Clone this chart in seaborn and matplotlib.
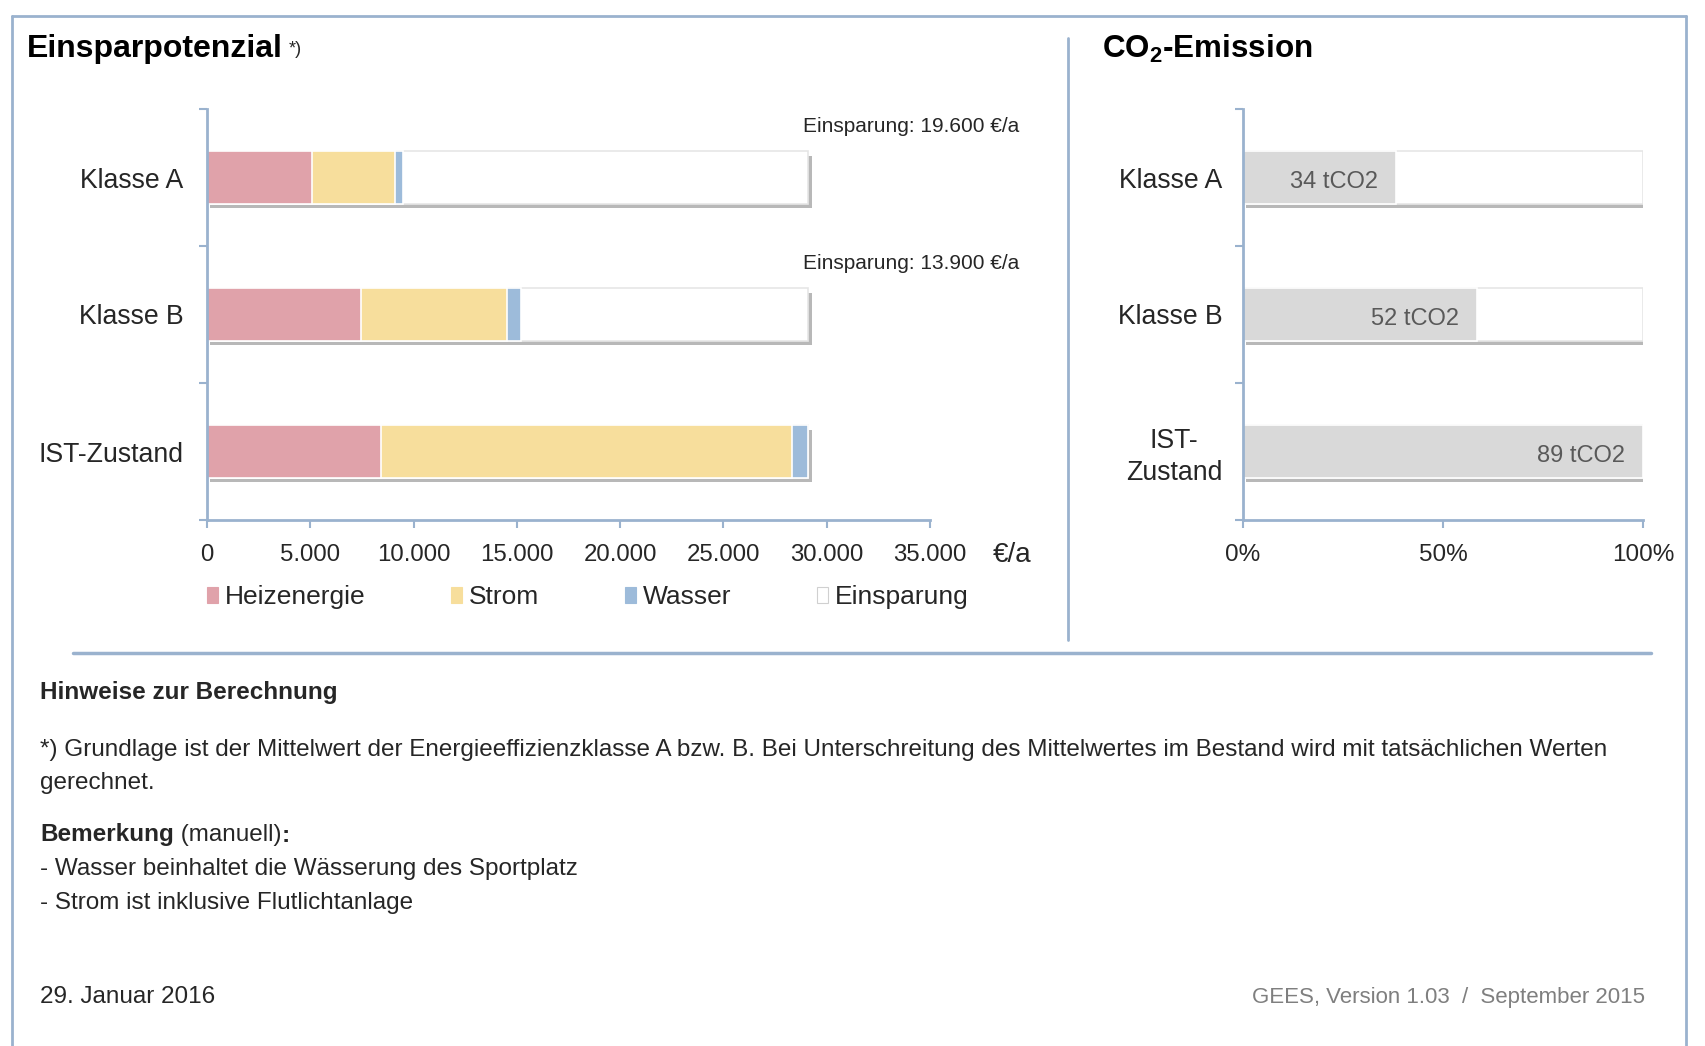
import numpy as np
import pandas as pd
import matplotlib
matplotlib.use("Agg")
import matplotlib.pyplot as plt
import matplotlib.patheffects as pe
from matplotlib.lines import Line2D
from matplotlib.patches import Patch
import seaborn as sns

# ---------------- data ----------------
categories = ["Klasse A", "Klasse B", "IST-Zustand"]
heizenergie = [5100, 7450, 8400]
strom = [4000, 7050, 19900]
wasser = [400, 700, 800]
einsparung = [19600, 13900, 0]

co2_categories = ["Klasse A", "Klasse B", "IST-\nZustand"]
co2_values = [34, 52, 89]

x_ticks = [0, 5000, 10000, 15000, 20000, 25000, 30000, 35000]
x_ticklabels = ["0", "5.000", "10.000", "15.000", "20.000", "25.000", "30.000", "35.000"]
pct_ticks = [0, 50, 100]
pct_ticklabels = ["0%", "50%", "100%"]
legend_labels = ["Heizenergie", "Strom", "Wasser", "Einsparung"]

# ---------------- style ----------------
sns.set_theme(style="white")
plt.rcParams["font.family"] = ["Liberation Sans", "DejaVu Sans"]
plt.rcParams["mathtext.fontset"] = "custom"
plt.rcParams["mathtext.rm"] = "Liberation Sans"
plt.rcParams["mathtext.bf"] = "Liberation Sans:bold"

C_HEIZ = "#E0A2AA"
C_STROM = "#F7DE9C"
C_WASSER = "#9DBBDA"
C_EINS = "#FFFFFF"
C_CO2 = "#D9D9D9"
C_AXIS = "#9AB2CE"
C_TEXT = "#262626"

W, H = 1706, 1046
fig = plt.figure(figsize=(W / 100, H / 100), dpi=100)


def fx(px):
    return px / W


def fy(py):
    return 1 - py / H


shadow = [pe.SimplePatchShadow(offset=(2.5, -3), shadow_rgbFace="#7f7f7f", alpha=0.55), pe.Normal()]

# ---------------- left chart ----------------
axL = fig.add_axes([fx(207), fy(520), fx(930) - fx(207), fy(109) - fy(520)])
df = pd.DataFrame({"cat": categories, "heiz": heizenergie, "strom": strom,
                   "wasser": wasser, "eins": einsparung})
df["c1"] = df["heiz"]
df["c2"] = df["c1"] + df["strom"]
df["c3"] = df["c2"] + df["wasser"]
df["c4"] = df["c3"] + df["eins"]

bw = 0.38
layers = [("c4", C_EINS), ("c3", C_WASSER), ("c2", C_STROM), ("c1", C_HEIZ)]
for i, (col, colr) in enumerate(layers):
    sns.barplot(data=df, x=col, y="cat", orient="h", color=colr, width=bw,
                edgecolor="#E6E6E6" if i == 0 else "white", linewidth=1.2,
                saturation=1, ax=axL)
    if i == 0:
        for p in axL.patches:
            p.set_path_effects(shadow)

axL.set_xlim(0, 35000)
axL.set_ylim(2.5, -0.5)
axL.set_xticks(x_ticks)
axL.set_xticklabels(x_ticklabels, fontsize=17.3, color=C_TEXT)
axL.set_yticks(range(len(categories)))
axL.set_yticklabels(categories, fontsize=19.2, color=C_TEXT)
axL.set_yticks([-0.5, 0.5, 1.5, 2.5], minor=True)
axL.tick_params(axis="y", which="major", length=0, pad=17)
axL.tick_params(axis="y", which="minor", left=True, length=6, width=1.5, color=C_AXIS)
axL.tick_params(axis="x", bottom=True, length=6, width=1.5, color=C_AXIS, pad=11)
axL.set_xlabel("")
axL.set_ylabel("")
for s in ["top", "right"]:
    axL.spines[s].set_visible(False)
for s in ["left", "bottom"]:
    axL.spines[s].set_color(C_AXIS)
    axL.spines[s].set_linewidth(2)
axL.text(1.113, -0.085, "€/a", transform=axL.transAxes, ha="center", va="center",
         fontsize=20, color=C_TEXT)

# Einsparung annotations
for i, v in enumerate(einsparung):
    if v > 0:
        lbl = "Einsparung: " + f"{v:,}".replace(",", ".") + " €/a"
        axL.text(1.123, i - 0.375, lbl, transform=axL.get_yaxis_transform(),
                 ha="right", va="center", fontsize=15, color=C_TEXT, clip_on=False)

# legend
colors_leg = [C_HEIZ, C_STROM, C_WASSER, C_EINS]
handles = [Patch(facecolor=c, edgecolor=("#D0D0D0" if c == C_EINS else c), linewidth=0.8)
           for c in colors_leg]
fig.legend(handles, legend_labels, loc="center left", bbox_to_anchor=(fx(207), fy(597)),
           ncol=4, frameon=False, fontsize=19.0, handlelength=0.42, handleheight=0.55,
           handletextpad=0.25, columnspacing=3.25, borderpad=0, borderaxespad=0,
           labelcolor=C_TEXT)

# ---------------- right chart ----------------
axR = fig.add_axes([fx(1243), fy(520), fx(1643) - fx(1243), fy(109) - fy(520)])
co2 = np.array(co2_values, dtype=float)
dfc = pd.DataFrame({"cat": co2_categories, "pct": co2 / co2.max() * 100,
                    "total": np.full(len(co2), 100.0)})
sns.barplot(data=dfc, x="total", y="cat", orient="h", color="white", width=bw,
            edgecolor="#E6E6E6", linewidth=1.2, saturation=1, ax=axR)
for p in axR.patches:
    p.set_path_effects(shadow)
sns.barplot(data=dfc, x="pct", y="cat", orient="h", color=C_CO2, width=bw,
            edgecolor="white", linewidth=1.2, saturation=1, ax=axR)
for i, (v, p) in enumerate(zip(co2_values, dfc["pct"])):
    axR.text(p - 4.5, i + 0.03, f"{v} tCO2", ha="right", va="center", fontsize=17,
             color="#595959")

axR.set_xlim(0, 100)
axR.set_ylim(2.5, -0.5)
axR.set_xticks(pct_ticks)
axR.set_xticklabels(pct_ticklabels, fontsize=17.5, color=C_TEXT)
axR.set_yticks(range(len(co2_categories)))
axR.set_yticklabels(co2_categories, fontsize=19.2, color=C_TEXT, linespacing=1.3)
axR.set_yticks([-0.5, 0.5, 1.5, 2.5], minor=True)
axR.tick_params(axis="y", which="major", length=0, pad=15)
axR.tick_params(axis="y", which="minor", left=True, length=6, width=1.5, color=C_AXIS)
axR.tick_params(axis="x", bottom=True, length=6, width=1.5, color=C_AXIS, pad=11)
axR.set_xlabel("")
axR.set_ylabel("")
for s in ["top", "right"]:
    axR.spines[s].set_visible(False)
for s in ["left", "bottom"]:
    axR.spines[s].set_color(C_AXIS)
    axR.spines[s].set_linewidth(2)
for lbl in axR.get_yticklabels():
    lbl.set_multialignment("center")

# ---------------- titles ----------------
t1 = fig.text(fx(27), fy(49), "Einsparpotenzial", fontsize=23, fontweight="bold",
              color="black", ha="left", va="center")
plt.annotate("*)", xy=(1, 0.2), xycoords=t1, xytext=(4, 0), textcoords="offset points",
             fontsize=13, color=C_TEXT, ha="left", va="bottom", annotation_clip=False)
fig.text(fx(1102), fy(49), r"CO$_\mathbf{2}$-Emission", fontsize=22.6, fontweight="bold",
         color="black", ha="left", va="center")

# ---------------- frame lines ----------------
def fline(x0, y0, x1, y1, lw=2, c=C_AXIS):
    fig.add_artist(Line2D([fx(x0), fx(x1)], [fy(y0), fy(y1)], color=c, lw=lw))

fline(12, 16, 1686, 16, lw=2)
fline(12, 16, 12, 1046, lw=2)
fline(1686, 16, 1686, 1046, lw=2)
fline(1068, 38, 1068, 640, lw=2)
fline(73, 653, 1651, 653, lw=2.5)

# ---------------- bottom notes ----------------
FS = 17.5
fig.text(fx(40), fy(693), "Hinweise zur Berechnung", fontsize=FS, fontweight="bold",
         color=C_TEXT, ha="left", va="center")
fig.text(fx(40), fy(750), "*) Grundlage ist der Mittelwert der Energieeffizienzklasse A bzw. B. "
         "Bei Unterschreitung des Mittelwertes im Bestand wird mit tatsächlichen Werten",
         fontsize=FS, color=C_TEXT, ha="left", va="center")
fig.text(fx(40), fy(783), "gerechnet.", fontsize=FS, color=C_TEXT, ha="left", va="center")
b1 = fig.text(fx(40), fy(835), "Bemerkung", fontsize=FS, fontweight="bold",
              color=C_TEXT, ha="left", va="center")
b2 = plt.annotate(" (manuell)", xy=(1, 0), xycoords=b1, fontsize=FS, color=C_TEXT,
                  ha="left", va="bottom", annotation_clip=False)
plt.annotate(":", xy=(1, 0), xycoords=b2, fontsize=FS, fontweight="bold", color=C_TEXT,
             ha="left", va="bottom", annotation_clip=False)
fig.text(fx(40), fy(869), "- Wasser beinhaltet die Wässerung des Sportplatz", fontsize=FS,
         color=C_TEXT, ha="left", va="center")
fig.text(fx(40), fy(903), "- Strom ist inklusive Flutlichtanlage", fontsize=FS,
         color=C_TEXT, ha="left", va="center")
fig.text(fx(40), fy(997), "29. Januar 2016", fontsize=FS, color=C_TEXT, ha="left", va="center")
fig.text(fx(1645), fy(997), "GEES, Version 1.03  /  September 2015", fontsize=16,
         color="#7F7F7F", ha="right", va="center")

fig.savefig("out.png", dpi=100)
